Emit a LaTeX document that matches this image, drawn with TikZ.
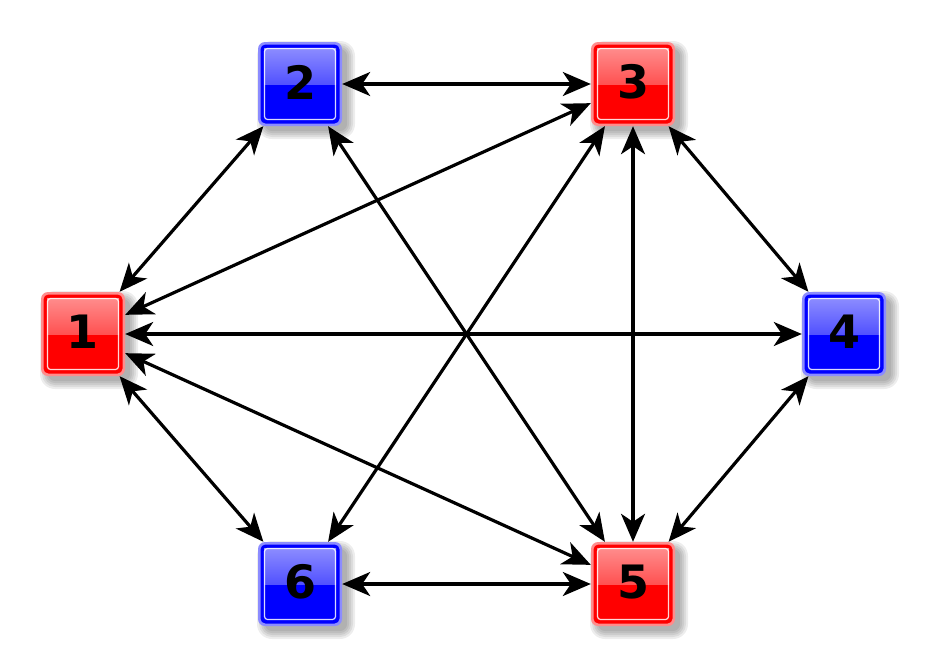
\documentclass[tikz,border=0pt]{standalone}
\usepackage{fontspec}
\setmainfont{DejaVu Sans}
\usetikzlibrary{arrows.meta}
\tikzset{
  tip/.tip={Stealth[length=28pt,width=24pt,inset=8pt]},
  edge/.style={line width=3.2pt,black,{tip}-{tip}},
  lab/.style={font=\bfseries\fontsize{46}{46}\selectfont,inner sep=0pt}
}
\newcommand\sqnode[5]{%
  \begin{scope}[shift={(#2,#3)}]
    \foreach \r in {9,7,5,3,1}{
      \fill[black,opacity=0.07,rounded corners=6+\r] (-40+6-\r,-40+6-\r) rectangle (40+6+\r,40+6+\r);
    }
    \node[minimum size=84pt,inner sep=0pt] (#1) at (0,0) {};
    \fill[#4!45!white,rounded corners=7] (-42,-42) rectangle (42,42);
    \fill[#4,rounded corners=5] (-39.5,-39.5) rectangle (39.5,39.5);
    \shade[top color=#4!45!white,bottom color=#4!68!white] (-36,-36) rectangle (36,0);
    \draw[white,line width=1.2pt,opacity=0.85,rounded corners=3] (-35.5,-35.5) rectangle (35.5,35.5);
    \node[lab] at (0,-2) {#5};
  \end{scope}
}
\begin{document}
\begin{tikzpicture}[x=1pt,y=-1pt]
\useasboundingbox (0,0) rectangle (928,667);
\sqnode{n1}{83}{334}{red}{1}
\sqnode{n2}{300}{84}{blue}{2}
\sqnode{n3}{633}{84}{red}{3}
\sqnode{n4}{844}{334}{blue}{4}
\sqnode{n5}{633}{584}{red}{5}
\sqnode{n6}{300}{584}{blue}{6}
\draw[edge] (n1) -- (n2);
\draw[edge] (n1) -- (n3);
\draw[edge] (n1) -- (n4);
\draw[edge] (n1) -- (n5);
\draw[edge] (n1) -- (n6);
\draw[edge] (n2) -- (n3);
\draw[edge] (n2) -- (n5);
\draw[edge] (n3) -- (n4);
\draw[edge] (n3) -- (n5);
\draw[edge] (n3) -- (n6);
\draw[edge] (n4) -- (n5);
\draw[edge] (n6) -- (n5);
\end{tikzpicture}
\end{document}
